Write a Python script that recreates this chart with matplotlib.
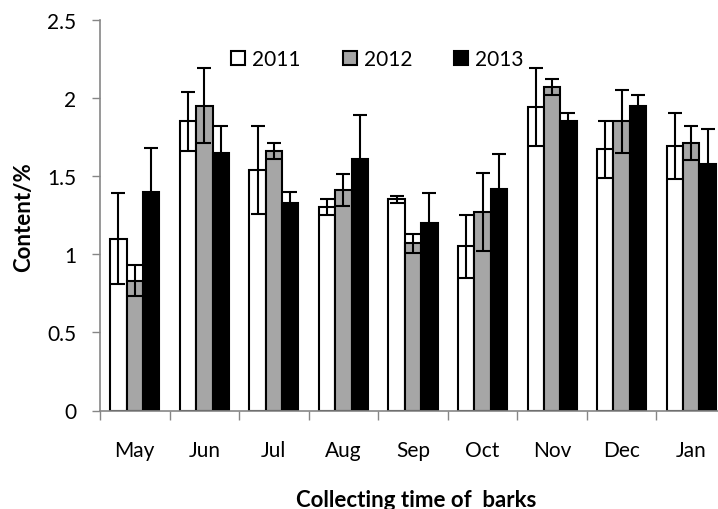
import numpy as np
import matplotlib
matplotlib.use('Agg')
import matplotlib.pyplot as plt

# months and yearly bark content (%)
months = ['May', 'Jun', 'Jul', 'Aug', 'Sep', 'Oct', 'Nov', 'Dec', 'Jan']
years = ['2011', '2012', '2013']
y2011 = [1.10, 1.85, 1.54, 1.30, 1.35, 1.05, 1.94, 1.67, 1.69]
y2012 = [0.83, 1.95, 1.66, 1.41, 1.07, 1.27, 2.07, 1.85, 1.71]
y2013 = [1.40, 1.65, 1.33, 1.61, 1.20, 1.42, 1.85, 1.95, 1.58]
e2011 = [0.29, 0.19, 0.28, 0.05, 0.02, 0.20, 0.25, 0.18, 0.21]
e2012 = [0.10, 0.24, 0.05, 0.10, 0.06, 0.25, 0.05, 0.20, 0.11]
e2013 = [0.28, 0.17, 0.07, 0.28, 0.19, 0.22, 0.05, 0.07, 0.22]

plt.rcParams['font.family'] = ['Lato', 'DejaVu Sans']

fig = plt.figure(figsize=(7.18, 5.10), dpi=100)
# plot area runs past the right edge, as in the original export
ax = fig.add_axes([100/718, 98.5/510, 626/718, 390.8/510])

x = np.arange(len(months))
w = 0.235
colors = ['white', '#a6a6a6', 'black']
vals = [y2011, y2012, y2013]
errs = [e2011, e2012, e2013]
for i in range(3):
    ax.bar(x + (i - 1) * w, vals[i], w, color=colors[i], edgecolor='black',
           linewidth=1.5, label=years[i], zorder=2)
for i in range(3):
    ax.errorbar(x + (i - 1) * w, vals[i], yerr=errs[i], fmt='none',
                ecolor='black', elinewidth=1.5, capsize=5, capthick=1.5, zorder=3)

ax.set_xlim(-0.5, len(months) - 0.5)
ax.set_ylim(0, 2.5)
ax.set_yticks([0, 0.5, 1, 1.5, 2, 2.5])
ax.set_yticklabels(['0', '0.5', '1', '1.5', '2', '2.5'])

ax.set_xticks(np.arange(-0.5, len(months), 1))
ax.set_xticklabels([])
ax.set_xticks(x, minor=True)
ax.set_xticklabels(months, minor=True)
ax.tick_params(axis='x', which='major', length=6.5, width=1, color='#868686', direction='out')
ax.tick_params(axis='x', which='minor', length=0, pad=21, labelsize=15)
ax.tick_params(axis='y', length=6, width=1, color='#868686', direction='out', pad=11, labelsize=15)

for s in ['top', 'right']:
    ax.spines[s].set_visible(False)
for s in ['left', 'bottom']:
    ax.spines[s].set_color('#868686')
    ax.spines[s].set_linewidth(1.2)

fig.text(23.5/718, 1 - 217.5/510, 'Content/%', fontsize=16, fontweight='bold',
         rotation=90, ha='center', va='center')
fig.text(416/718, 3/510, 'Collecting time of  barks', fontsize=16,
         fontweight='bold', ha='center', va='baseline')

ax.legend(loc='center', bbox_to_anchor=(377.5/718, 1 - 60/510),
          bbox_transform=fig.transFigure, ncol=3, frameon=False, fontsize=15,
          handlelength=0.67, handleheight=0.67, handletextpad=0.35, columnspacing=2.0)

fig.savefig('out.png', dpi=100)
